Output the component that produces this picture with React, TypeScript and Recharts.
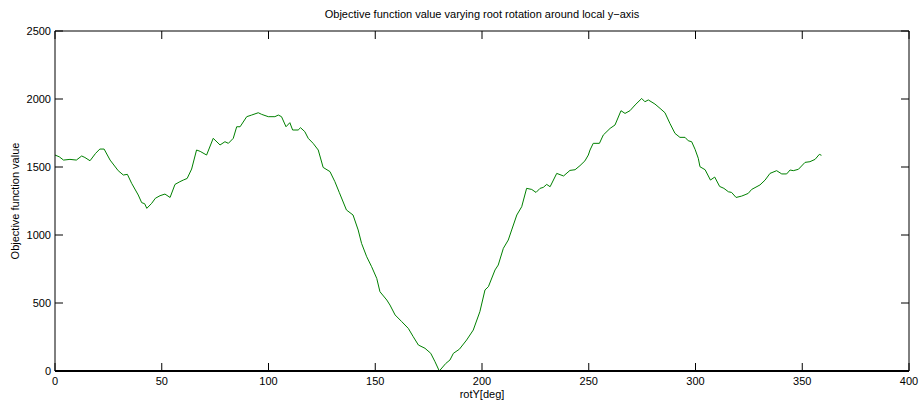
import React from 'react';
import { LineChart, Line, XAxis, YAxis } from 'recharts';

const rotY = [
  0, 2, 4, 7, 10, 12.5, 14, 16.4, 19, 21, 23, 25.8, 29.6, 32, 33.9, 35.9, 39, 40.6, 42, 43,
  45.3, 47, 49.2, 51.5, 53.9, 56.2, 58.5, 60.1, 61.9, 64, 66.3, 68, 71, 74.1, 77.3, 79.6, 81.2,
  83.5, 85.1, 86.7, 89.8, 92.1, 95.2, 96.8, 99.9, 103, 104.6, 106.1, 108.2, 110, 111.3, 113.9,
  115, 117, 118.6, 120.9, 123.3, 125.6, 128.8, 131.1, 133.2, 136.5, 139.6, 142, 143.6, 146,
  148.3, 150.7, 152.2, 155.4, 156.9, 159.3, 162.4, 165.5, 167.8, 170.2, 173.3, 176, 178, 180,
  183, 185, 186.6, 189.4, 192.8, 195.9, 199, 201.4, 203, 206.1, 207.6, 210, 212.3, 213.9, 216.3,
  218.6, 220.9, 223.3, 225.3, 227.2, 228.7, 230.3, 231.9, 235, 238.2, 241.2, 243.6, 245.9, 248.2,
  249.8, 250.6, 252.1, 255, 256.8, 260, 262.3, 265.1, 267, 269.3, 271.7, 274.8, 276.3, 277.9,
  281, 283.4, 285.7, 288, 290.4, 292.7, 295.1, 296.6, 298.2, 299.8, 301.3, 302.1, 304.5, 307,
  309, 311.3, 313.3, 315.4, 316.9, 319, 321.6, 323.2, 324.7, 326.3, 330.2, 332.6, 334.9, 338,
  340.4, 342.7, 344.3, 345.8, 348.2, 351.3, 353.6, 356, 358, 359,
];

const objValue = [
  1588, 1575, 1551, 1556, 1551, 1581, 1570, 1546, 1600, 1632, 1632, 1551, 1473, 1441, 1446, 1380, 1294, 1238, 1230, 1196,
  1233, 1270, 1289, 1301, 1276, 1372, 1392, 1404, 1416, 1485, 1625, 1615, 1588, 1711, 1662, 1686, 1674,
  1711, 1796, 1796, 1870, 1882, 1899, 1887, 1870, 1870, 1882, 1870, 1796, 1826, 1772, 1772,
  1789, 1760, 1711, 1674, 1625, 1497, 1466, 1392, 1311, 1184, 1147, 1037, 938, 840,
  767, 681, 583, 522, 485, 412, 363, 313, 252, 191, 167, 130, 68, 0,
  55, 81, 130, 160, 228, 301, 436, 596, 620, 743, 779, 902, 963, 1037, 1147,
  1208, 1343, 1335, 1313, 1343, 1350, 1372, 1355, 1453, 1434, 1475, 1480, 1510, 1545,
  1588, 1625, 1674, 1674, 1735, 1784, 1809, 1914, 1894, 1914, 1956, 2004, 1980, 1993,
  1963, 1931, 1899, 1821, 1747, 1718, 1718, 1693, 1686, 1630, 1564, 1502, 1480, 1404,
  1426, 1357, 1343, 1318, 1313, 1276, 1286, 1296, 1306, 1335, 1368, 1404, 1453, 1473,
  1449, 1449, 1478, 1473, 1483, 1534, 1539, 1556, 1593, 1586,
];

const xTicks = [0, 50, 100, 150, 200, 250, 300, 350, 400];
const yTicks = [0, 500, 1000, 1500, 2000, 2500];

const chartTitle = 'Objective function value varying root rotation around local y\u2212axis';
const xLabel = 'rotY[deg]';
const yLabel = 'Objective function value';

const data = rotY.map((x, i) => ({ rotY: x, value: objValue[i] }));

const FONT = '"Liberation Sans", Arial, Helvetica, sans-serif';
const TICK_LEN = 8;

const BottomTick = (props: any) => {
  const { x, y, payload } = props;
  return (
    <g>
      <line x1={x} y1={y} x2={x} y2={y - TICK_LEN} stroke="#000" strokeWidth={1} />
      <text x={x} y={y + 14} textAnchor="middle" fontSize={11} fontFamily={FONT} fill="#000">
        {payload.value}
      </text>
    </g>
  );
};

const TopTick = (props: any) => {
  const { x, y } = props;
  return <line x1={x} y1={y} x2={x} y2={y + TICK_LEN} stroke="#000" strokeWidth={1} />;
};

const LeftTick = (props: any) => {
  const { x, y, payload } = props;
  return (
    <g>
      <line x1={x} y1={y} x2={x + TICK_LEN} y2={y} stroke="#000" strokeWidth={1} />
      <text x={x - 4} y={y + 4} textAnchor="end" fontSize={11} fontFamily={FONT} fill="#000">
        {payload.value}
      </text>
    </g>
  );
};

const RightTick = (props: any) => {
  const { x, y } = props;
  return <line x1={x} y1={y} x2={x - TICK_LEN} y2={y} stroke="#000" strokeWidth={1} />;
};

const TitleLabel = (props: any) => {
  const vb = props.viewBox || {};
  const cx = vb.x + vb.width / 2;
  return (
    <text x={cx} y={vb.y - 12} textAnchor="middle" fontSize={11} fontFamily={FONT} fill="#000">
      {chartTitle}
    </text>
  );
};

const XLabel = (props: any) => {
  const vb = props.viewBox || {};
  const cx = vb.x + vb.width / 2;
  return (
    <text x={cx} y={vb.y + 27} textAnchor="middle" fontSize={11} fontFamily={FONT} fill="#000">
      {xLabel}
    </text>
  );
};

const YLabel = (props: any) => {
  const vb = props.viewBox || {};
  const cy = vb.y + vb.height / 2;
  const lx = 19;
  return (
    <text
      x={lx}
      y={cy}
      transform={`rotate(-90, ${lx}, ${cy})`}
      textAnchor="middle"
      fontSize={11}
      fontFamily={FONT}
      fill="#000"
    >
      {yLabel}
    </text>
  );
};

export default function App() {
  return (
    <div style={{ position: 'absolute', left: 0, top: 0, width: 922, height: 403, background: '#fff' }}>
      <LineChart
        width={922}
        height={403}
        data={data}
        margin={{ top: 30, right: 12, bottom: 0, left: 0 }}
      >
        <XAxis
          dataKey="rotY"
          type="number"
          domain={[0, 400]}
          ticks={xTicks}
          interval={0}
          height={32}
          tickSize={0}
          tickMargin={0}
          tick={<BottomTick />}
          tickLine={false}
          axisLine={{ stroke: '#000', strokeWidth: 2 }}
          label={<XLabel />}
          allowDataOverflow
        />
        <XAxis
          xAxisId="top"
          orientation="top"
          dataKey="rotY"
          type="number"
          domain={[0, 400]}
          ticks={xTicks}
          interval={0}
          height={1}
          tickSize={0}
          tickMargin={0}
          tick={<TopTick />}
          tickLine={false}
          axisLine={{ stroke: '#000', strokeWidth: 1 }}
          label={<TitleLabel />}
          allowDataOverflow
        />
        <YAxis
          type="number"
          domain={[0, 2500]}
          ticks={yTicks}
          interval={0}
          width={55}
          tickSize={0}
          tickMargin={0}
          tick={<LeftTick />}
          tickLine={false}
          axisLine={{ stroke: '#000', strokeWidth: 1 }}
          label={<YLabel />}
          allowDataOverflow
        />
        <YAxis
          yAxisId="right"
          orientation="right"
          type="number"
          domain={[0, 2500]}
          ticks={yTicks}
          interval={0}
          width={1}
          tickSize={0}
          tickMargin={0}
          tick={<RightTick />}
          tickLine={false}
          axisLine={{ stroke: '#000', strokeWidth: 1 }}
          allowDataOverflow
        />
        <Line
          type="linear"
          dataKey="value"
          stroke="#008000"
          strokeWidth={1}
          dot={false}
          isAnimationActive={false}
        />
      </LineChart>
    </div>
  );
}
